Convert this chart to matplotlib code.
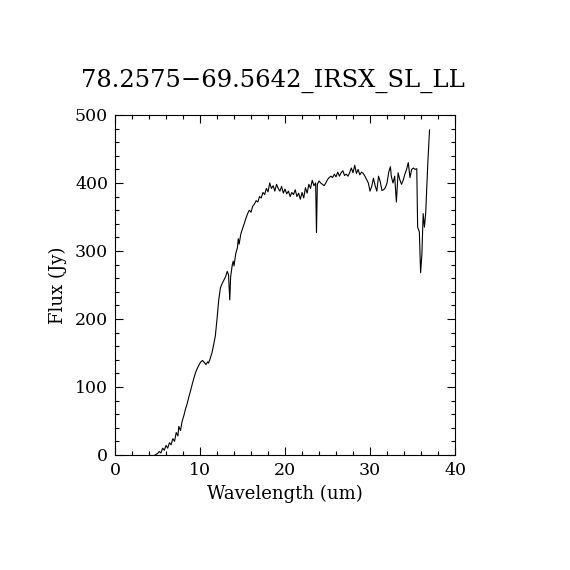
import matplotlib
matplotlib.use('Agg')
import matplotlib.pyplot as plt
from matplotlib.ticker import MultipleLocator

title = '78.2575\u221269.5642_IRSX_SL_LL'

# wavelength (um) and flux (Jy)
wavelength = [
    4.7, 5.0, 5.2, 5.4, 5.6, 5.8, 6.0, 6.2, 6.4, 6.6, 6.8, 7.0, 7.2, 7.4, 7.5, 7.7,
    7.9, 8.1, 8.3, 8.5, 8.7, 8.9, 9.1, 9.3, 9.5, 9.7, 9.9, 10.1, 10.3, 10.5, 10.7,
    10.9, 11.0, 11.2, 11.4, 11.6, 11.8, 12.0, 12.2, 12.4, 12.6, 12.8, 13.0, 13.2,
    13.35, 13.5, 13.6, 13.8, 13.9, 14.0, 14.2, 14.4, 14.5, 14.6, 14.8, 15.0, 15.2,
    15.4, 15.6, 15.8, 16.0, 16.2, 16.4, 16.6, 16.8, 17.0, 17.2, 17.4, 17.6, 17.8,
    18.0, 18.2, 18.4, 18.6, 18.8, 19.0, 19.2, 19.4, 19.6, 19.8, 20.0, 20.2, 20.4,
    20.6, 20.8, 21.0, 21.2, 21.4, 21.6, 21.8, 22.0, 22.2, 22.4, 22.6, 22.8, 23.0,
    23.2, 23.4, 23.6, 23.7, 23.8, 24.0, 24.2, 24.4, 24.6, 24.8, 25.0, 25.2, 25.4,
    25.6, 25.8, 26.0, 26.2, 26.4, 26.6, 26.8, 27.0, 27.2, 27.4, 27.6, 27.8, 28.0,
    28.2, 28.4, 28.6, 28.8, 29.0, 29.2, 29.4, 29.6, 29.8, 30.0, 30.2, 30.4, 30.6,
    30.8, 31.0, 31.2, 31.4, 31.6, 31.8, 32.0, 32.2, 32.4, 32.5, 32.7, 32.9, 33.1,
    33.3, 33.5, 33.7, 33.9, 34.1, 34.3, 34.5, 34.7, 34.9, 35.1, 35.3, 35.5, 35.6,
    35.8, 35.95, 36.1, 36.25, 36.4, 36.55, 36.8, 37.0,
]
flux = [
    0, 2, 5, 3, 10, 7, 14, 10, 18, 15, 24, 20, 33, 28, 42, 36,
    50, 58, 68, 76, 86, 95, 105, 114, 122, 128, 133, 137, 139, 136, 133,
    137, 135, 142, 150, 162, 175, 200, 228, 246, 252, 257, 262, 270,
    265, 228, 262, 280, 285, 278, 296, 305, 318, 310, 325, 333, 340,
    348, 355, 360, 357, 366, 369, 374, 372, 380, 378, 386, 383, 392,
    387, 400, 392, 396, 388, 398, 392, 388, 395, 385, 391, 384, 388,
    380, 386, 383, 390, 380, 385, 376, 386, 378, 393, 385, 398, 392,
    404, 396, 400, 327, 398, 403, 400, 398, 396, 400, 405, 408, 410,
    408, 413, 409, 416, 410, 415, 418, 411, 413, 410, 415, 422, 415,
    426, 414, 420, 412, 416, 414, 410, 405, 400, 388, 395, 407, 396,
    388, 410, 402, 389, 390, 393, 400, 416, 424, 410, 400, 410, 372,
    415, 405, 398, 404, 413, 420, 430, 408, 420, 422, 420, 421, 335,
    328, 268, 295, 355, 335, 356, 430, 478,
]

plt.rcParams['font.family'] = ['DejaVu Serif']

fig = plt.figure(figsize=(5.7, 5.7), dpi=100)
ax = fig.add_axes([0.2018, 0.2018, 0.5965, 0.5965])

ax.plot(wavelength, flux, color='black', linewidth=0.8)

ax.set_xlim(0, 40)
ax.set_ylim(0, 500)
ax.xaxis.set_major_locator(MultipleLocator(10))
ax.xaxis.set_minor_locator(MultipleLocator(2))
ax.yaxis.set_major_locator(MultipleLocator(100))
ax.yaxis.set_minor_locator(MultipleLocator(20))
ax.tick_params(which='both', direction='in', top=True, right=True,
               width=0.8, labelsize=12.5, pad=5)
ax.tick_params(which='major', length=6)
ax.tick_params(which='minor', length=3)
for s in ax.spines.values():
    s.set_linewidth(0.8)

ax.set_xlabel('Wavelength (um)', fontsize=13, labelpad=4)
ax.set_ylabel('Flux (Jy)', fontsize=13, labelpad=6)
ax.set_title(title, fontsize=17.5, pad=20, x=0.465)

fig.savefig('out.png', dpi=100)
